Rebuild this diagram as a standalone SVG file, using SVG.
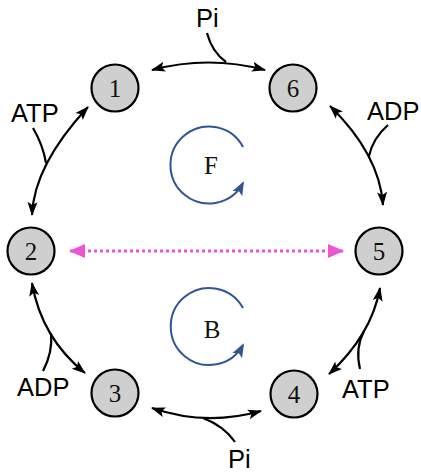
<svg xmlns="http://www.w3.org/2000/svg" width="421" height="473" viewBox="0 0 421 473">
  <defs>
    <marker id="ah" markerUnits="userSpaceOnUse" markerWidth="14" markerHeight="12" viewBox="0 0 14 12" refX="13" refY="6" orient="auto-start-reverse">
      <path d="M0,1 L14,6 L0,11 L3,6 Z" fill="#000"/>
    </marker>
    <marker id="ahb" markerUnits="userSpaceOnUse" markerWidth="14" markerHeight="12" viewBox="0 0 14 12" refX="12" refY="6" orient="auto">
      <path d="M0,0.5 L14,6 L0,11.5 L3,6 Z" fill="#2f5597"/>
    </marker>
    <marker id="ahp" markerUnits="userSpaceOnUse" markerWidth="16" markerHeight="14" viewBox="0 0 16 14" refX="15" refY="7" orient="auto-start-reverse">
      <path d="M0,0 L16,7 L0,14 Z" fill="#ee55d0"/>
    </marker>
    <style>
      .node circle { fill: #d0cfd0; stroke: #000; stroke-width: 2.2; }
      .node text { font-family: "Liberation Serif", serif; font-size: 25px; text-anchor: middle; fill: #111; }
      .link { fill: none; stroke: #000; stroke-width: 2.2; }
      .arr { marker-start: url(#ah); marker-end: url(#ah); }
      .lbl { font-family: "Liberation Sans", Arial, sans-serif; font-size: 25.5px; fill: #000; }
      .cyc { fill: none; stroke: #2f5597; stroke-width: 2; marker-end: url(#ahb); }
      .cyc-lbl { font-family: "Liberation Serif", serif; font-size: 25px; text-anchor: middle; fill: #111; }
    </style>
  </defs>

  <g id="connectors">
    <!-- 1 <-> 6 with Pi -->
    <path class="link arr" d="M152,70 Q208,55 265,70"/>
    <path class="link" d="M207,33 Q212,52 226,62"/>
    <!-- 1 <-> 2 with ATP -->
    <path class="link arr" d="M88,107 Q34,165 32,215"/>
    <path class="link" d="M33,128 Q43,145 46,163"/>
    <!-- 6 <-> 5 with ADP -->
    <path class="link arr" d="M330,106 Q379.5,154.5 383,205"/>
    <path class="link" d="M388,125 Q373,138 369,156"/>
    <!-- 2 <-> 3 with ADP -->
    <path class="link arr" d="M32,283 Q41.5,338 85,373"/>
    <path class="link" d="M43,371 Q53,352 51,333"/>
    <!-- 5 <-> 4 with ATP -->
    <path class="link arr" d="M380,288 Q371.5,335 329,374"/>
    <path class="link" d="M360,369 Q355,348 364,331"/>
    <!-- 3 <-> 4 with Pi -->
    <path class="link arr" d="M152,408 Q206,426.5 261,411"/>
    <path class="link" d="M203,418 Q224,426 235,442"/>
    <!-- 2 <-> 5 dotted -->
    <path d="M70,251 L343,251" fill="none" stroke="#ee55d0" stroke-width="3" stroke-dasharray="3 3" marker-start="url(#ahp)" marker-end="url(#ahp)"/>
  </g>

  <g id="labels">
    <text class="lbl" x="196" y="27">Pi</text>
    <text class="lbl" x="11" y="122">ATP</text>
    <text class="lbl" x="367" y="120">ADP</text>
    <text class="lbl" x="17" y="396">ADP</text>
    <text class="lbl" x="342" y="398">ATP</text>
    <text class="lbl" x="228" y="468">Pi</text>
  </g>

  <g id="cycle-F">
    <path class="cyc" d="M243,147 A38.5,38.5 0 1 0 243,183"/>
    <text class="cyc-lbl" x="211" y="174">F</text>
  </g>
  <g id="cycle-B">
    <path class="cyc" d="M243,308 A38.5,38.5 0 1 0 243,345"/>
    <text class="cyc-lbl" x="212" y="338">B</text>
  </g>

  <g id="node-1" class="node"><circle cx="115" cy="88" r="23.5"/><text x="115" y="97">1</text></g>
  <g id="node-6" class="node"><circle cx="293" cy="88" r="23.5"/><text x="293" y="97">6</text></g>
  <g id="node-2" class="node"><circle cx="31" cy="251" r="23.5"/><text x="31" y="260">2</text></g>
  <g id="node-5" class="node"><circle cx="379" cy="251" r="23.5"/><text x="379" y="260">5</text></g>
  <g id="node-3" class="node"><circle cx="115" cy="393" r="23.5"/><text x="115" y="402">3</text></g>
  <g id="node-4" class="node"><circle cx="294" cy="394" r="23.5"/><text x="294" y="403">4</text></g>
</svg>
